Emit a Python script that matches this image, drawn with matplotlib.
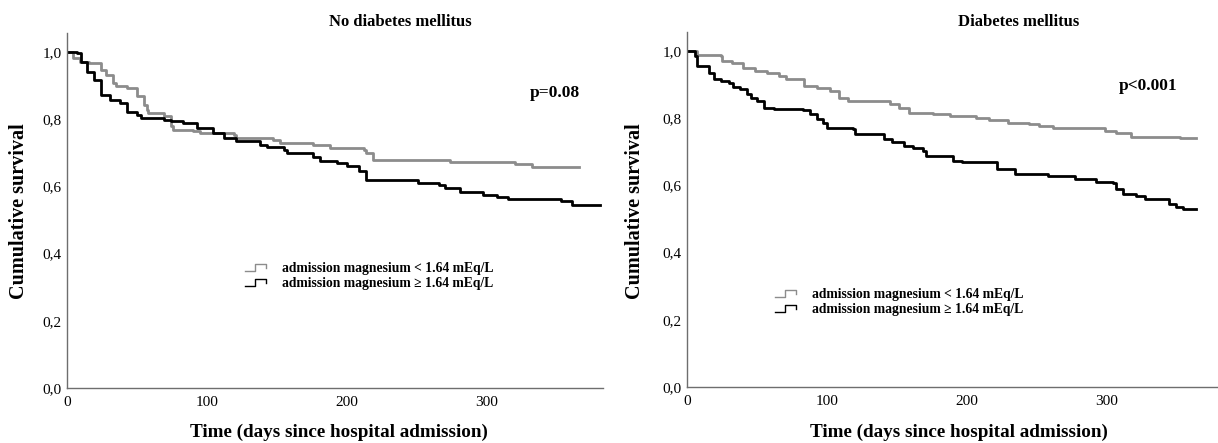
import matplotlib
matplotlib.use("Agg")
import matplotlib.pyplot as plt
from matplotlib.lines import Line2D
from matplotlib.legend_handler import HandlerBase
from matplotlib.ticker import FuncFormatter

# ── Data (Kaplan-Meier step curves) ──────────────────────────────────────
# No diabetes mellitus
nodm_low_t = [0, 4, 9, 16, 24, 28, 33, 35, 43, 50, 55, 57, 58, 69, 74, 76, 90, 95,
              119, 121, 147, 152, 176, 188, 212, 214, 219, 274, 320, 332, 366]
nodm_low_s = [1.0, 0.982, 0.972, 0.967, 0.947, 0.933, 0.908, 0.898, 0.893, 0.868,
              0.843, 0.828, 0.818, 0.809, 0.779, 0.769, 0.764, 0.759, 0.754, 0.744,
              0.739, 0.729, 0.724, 0.714, 0.709, 0.699, 0.679, 0.674, 0.666, 0.659, 0.659]
nodm_high_t = [0, 7, 10, 14, 19, 24, 31, 38, 43, 50, 53, 69, 74, 83, 93, 104, 112,
               121, 138, 143, 155, 157, 176, 181, 193, 200, 209, 214, 251, 266, 270,
               281, 297, 307, 315, 353, 361, 381]
nodm_high_s = [1.0, 0.997, 0.972, 0.942, 0.918, 0.873, 0.858, 0.848, 0.823, 0.813,
               0.804, 0.799, 0.794, 0.789, 0.774, 0.759, 0.744, 0.734, 0.724, 0.719,
               0.709, 0.699, 0.689, 0.675, 0.670, 0.660, 0.645, 0.620, 0.611, 0.604,
               0.596, 0.584, 0.576, 0.569, 0.562, 0.556, 0.544, 0.544]

# Diabetes mellitus
dm_low_t = [0, 7, 14, 24, 25, 32, 40, 49, 57, 66, 71, 84, 93, 102, 109, 115, 145,
            152, 159, 176, 188, 207, 216, 230, 245, 252, 262, 299, 307, 318, 353, 364]
dm_low_s = [1.0, 0.990, 0.988, 0.985, 0.970, 0.965, 0.950, 0.941, 0.936, 0.926,
            0.916, 0.896, 0.891, 0.881, 0.861, 0.852, 0.842, 0.832, 0.817, 0.812,
            0.807, 0.802, 0.795, 0.787, 0.782, 0.776, 0.770, 0.761, 0.755, 0.745,
            0.740, 0.740]
dm_high_t = [0, 6, 7, 16, 19, 24, 30, 33, 38, 43, 46, 50, 55, 62, 83, 88, 93, 97,
             100, 119, 120, 141, 147, 155, 162, 169, 171, 190, 197, 222, 235, 258,
             278, 293, 305, 307, 312, 321, 328, 345, 350, 355, 364]
dm_high_s = [1.0, 0.985, 0.955, 0.936, 0.916, 0.911, 0.906, 0.893, 0.886, 0.871,
             0.861, 0.852, 0.832, 0.827, 0.824, 0.812, 0.797, 0.787, 0.772, 0.768,
             0.753, 0.738, 0.728, 0.718, 0.713, 0.703, 0.688, 0.674, 0.669, 0.649,
             0.634, 0.627, 0.619, 0.609, 0.606, 0.590, 0.575, 0.570, 0.560, 0.545,
             0.535, 0.530, 0.530]

panel_titles = ["No diabetes mellitus", "Diabetes mellitus"]
p_values = ["p=0.08", "p<0.001"]
series_labels = ["admission magnesium < 1.64 mEq/L",
                 "admission magnesium \u2265 1.64 mEq/L"]
y_ticks = [0.0, 0.2, 0.4, 0.6, 0.8, 1.0]
x_ticks = [0, 100, 200, 300]

GRAY = "#8c8c8c"
BLACK = "#000000"
AXIS_CLR = "#6e6e6e"
SERIF = ["Liberation Serif", "DejaVu Serif"]

plt.rcParams["font.family"] = SERIF


class StepHandler(HandlerBase):
    # little "_|‾|" step glyph like the SPSS legend
    def create_artists(self, legend, orig_handle, xdescent, ydescent,
                       width, height, fontsize, trans):
        xs = [0, 0.45, 0.45, 0.9, 0.9]
        ys = [0.1, 0.1, 0.85, 0.85, 0.45]
        line = Line2D([x * width - xdescent for x in xs],
                      [y * height - ydescent for y in ys],
                      color=orig_handle.get_color(), lw=1.0)
        line.set_transform(trans)
        return [line]


fig = plt.figure(figsize=(12.18, 4.43), dpi=100)

panels = [
    dict(rect=[67/1218, 1-388/443, 536/1218, 355/443], xmax=383,
         low=(nodm_low_t, nodm_low_s), high=(nodm_high_t, nodm_high_s),
         p_xy=(0.910, 0.831), title_x=400, xlab_x=339, ylab_x=19,
         leg_xy=(245, 262)),
    dict(rect=[687/1218, 1-387/443, 531/1218, 355/443], xmax=380,
         low=(dm_low_t, dm_low_s), high=(dm_high_t, dm_high_s),
         p_xy=(0.868, 0.848), title_x=1019, xlab_x=959, ylab_x=635,
         leg_xy=(775, 288)),
]

comma = FuncFormatter(lambda v, pos: f"{v:.1f}".replace(".", ","))

for i, pn in enumerate(panels):
    ax = fig.add_axes(pn["rect"])
    lt, ls = pn["low"]
    ht, hs = pn["high"]
    l1, = ax.plot(lt, ls, drawstyle="steps-post", color=GRAY, lw=2.0,
                  label=series_labels[0])
    l2, = ax.plot(ht, hs, drawstyle="steps-post", color=BLACK, lw=2.0,
                  label=series_labels[1])

    ax.set_xlim(0, pn["xmax"])
    ax.set_ylim(0, 1.057)
    ax.set_xticks(x_ticks)
    ax.set_yticks(y_ticks)
    ax.yaxis.set_major_formatter(comma)
    ax.tick_params(length=0, labelsize=11)
    ax.tick_params(axis="x", pad=6)
    ax.tick_params(axis="y", pad=4)
    for s in ["top", "right"]:
        ax.spines[s].set_visible(False)
    for s in ["left", "bottom"]:
        ax.spines[s].set_color(AXIS_CLR)
        ax.spines[s].set_linewidth(1.0)

    ax.text(pn["p_xy"][0], pn["p_xy"][1], p_values[i], transform=ax.transAxes,
            ha="center", va="center", fontsize=12.5, fontweight="bold")

    lx, ly = pn["leg_xy"]
    ax.legend(handles=[l1, l2], handler_map={Line2D: StepHandler()},
              loc="upper left", bbox_to_anchor=(lx/1218, 1-ly/443),
              bbox_transform=fig.transFigure, frameon=False, borderpad=0,
              borderaxespad=0, handlelength=1.7, handletextpad=1.0,
              labelspacing=0.15, prop={"family": SERIF, "weight": "bold", "size": 9.8})

    fig.text(pn["title_x"]/1218, 1-22/443, panel_titles[i], ha="center",
             va="center", fontsize=12, fontweight="bold")
    fig.text(pn["xlab_x"]/1218, 1-432/443, "Time (days since hospital admission)",
             ha="center", va="center", fontsize=13.8, fontweight="bold")
    fig.text(pn["ylab_x"]/1218, 1-211/443, "Cumulative survival", rotation=90,
             ha="center", va="center", fontsize=14.5, fontweight="bold")

fig.savefig("out.png", dpi=100, facecolor="white")
